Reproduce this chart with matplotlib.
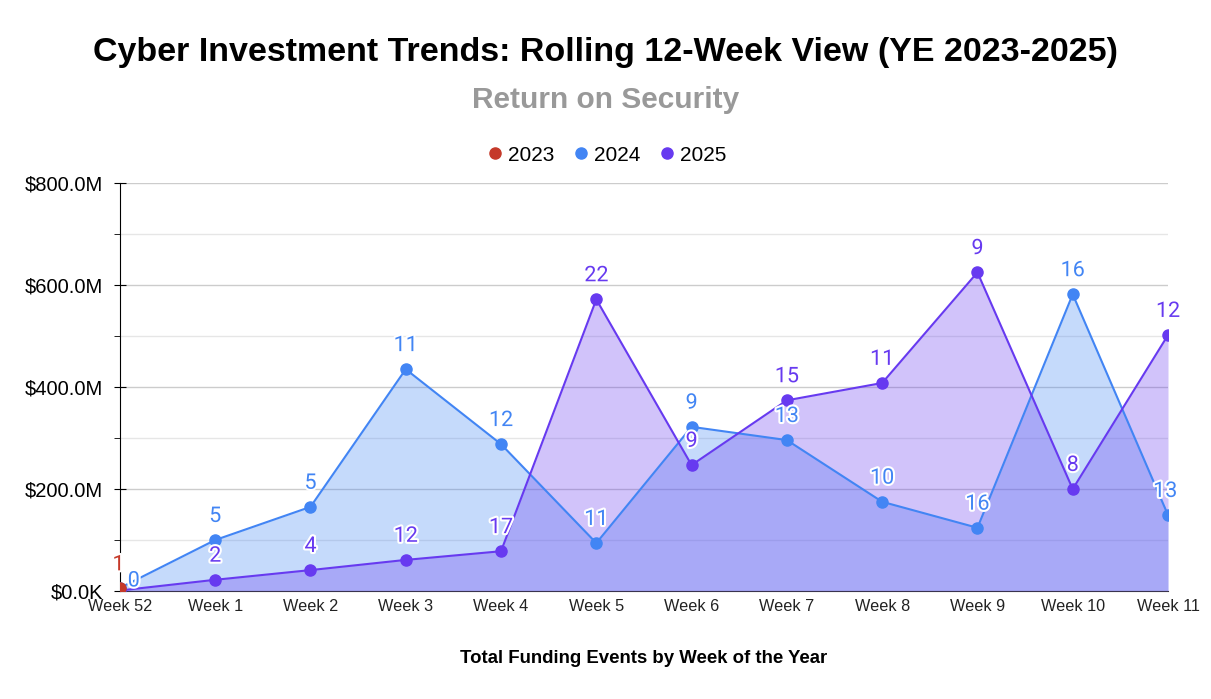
import matplotlib
matplotlib.use("Agg")
import matplotlib.pyplot as plt
import matplotlib.patheffects as pe
from matplotlib.ticker import FuncFormatter, MultipleLocator

weeks = ["Week 52", "Week 1", "Week 2", "Week 3", "Week 4", "Week 5",
         "Week 6", "Week 7", "Week 8", "Week 9", "Week 10", "Week 11"]

# funding amounts in $M
funding_2023 = [5]
funding_2024 = [6, 100, 165, 435, 288, 94, 322, 296, 175, 124, 582, 149]
funding_2025 = [1, 22, 41, 61, 78, 572, 247, 374, 408, 625, 200, 502]

# number of funding events (point labels)
events_2023 = [1]
events_2024 = [0, 5, 5, 11, 12, 11, 9, 13, 10, 16, 16, 13]
events_2025 = [None, 2, 4, 12, 17, 22, 9, 15, 11, 9, 8, 12]

c23 = "#C53929"
c24 = "#4285F4"
c25 = "#673AF0"

plt.rcParams['font.family'] = ['Liberation Sans', 'DejaVu Sans']

fig = plt.figure(figsize=(12.11, 6.99), dpi=100)
ax = fig.add_axes([0.099, 0.1545, 0.8655, 0.5835])

x24 = list(range(len(funding_2024)))
x25 = list(range(len(funding_2025)))
x23 = list(range(len(funding_2023)))

ax.fill_between(x24, funding_2024, 0, color=c24, alpha=0.3, lw=0, zorder=2)
ax.fill_between(x25, funding_2025, 0, color=c25, alpha=0.3, lw=0, zorder=3)
ax.plot(x24, funding_2024, color=c24, lw=1.5, marker='o', ms=8, zorder=4)
ax.plot(x25, funding_2025, color=c25, lw=1.5, marker='o', ms=8, zorder=5)
ax.plot(x23, funding_2023, color=c23, lw=1.5, marker='o', ms=8, zorder=6)

stroke = [pe.withStroke(linewidth=3, foreground='white')]


def label_series(xs, ys, labels, color, shifts):
    for i, (x, y, lab) in enumerate(zip(xs, ys, labels)):
        if lab is None:
            continue
        dx, dy = shifts.get(i, (0, 17))
        ax.annotate(str(lab), (x, y), xytext=(dx, dy), textcoords='offset points',
                    ha='center', va='center', color=color, fontsize=15.5,
                    family=['Roboto', 'DejaVu Sans'], path_effects=stroke,
                    zorder=8, annotation_clip=False)


label_series(x24, funding_2024, events_2024, c24, {0: (10, 5), 11: (-2, 17)})
label_series(x25, funding_2025, events_2025, c25, {})
label_series(x23, funding_2023, events_2023, c23, {0: (-1, 17)})

ax.set_xlim(0, len(weeks) - 1)
ax.set_ylim(0, 800)
ax.set_xticks(x24)
ax.set_xticklabels(weeks, fontsize=11.7, color='#222222')
ax.tick_params(axis='x', length=0, pad=6)

ax.yaxis.set_major_locator(MultipleLocator(200))
ax.yaxis.set_minor_locator(MultipleLocator(100))
ax.yaxis.set_major_formatter(FuncFormatter(
    lambda v, p: "$0.0K" if v == 0 else "${:.1f}M".format(v)))
ax.tick_params(axis='y', which='major', labelsize=14.5, length=8, direction='inout', pad=8)
ax.tick_params(axis='y', which='minor', length=4, direction='out')

ax.grid(axis='y', which='major', color='#cccccc', lw=1, zorder=0)
ax.grid(axis='y', which='minor', color='#e6e6e6', lw=1, zorder=0)
ax.set_axisbelow(True)

for s in ['top', 'right']:
    ax.spines[s].set_visible(False)
ax.spines['left'].set_color('black')
ax.spines['bottom'].set_color('#333333')

ax.set_xlabel("Total Funding Events by Week of the Year", fontsize=13.4,
              fontweight='bold', labelpad=26)

fig.text(0.5, 0.925, "Cyber Investment Trends: Rolling 12-Week View (YE 2023-2025)",
         ha='center', va='center', fontsize=24.5, fontweight='bold')
fig.text(0.5, 0.857, "Return on Security", ha='center', va='center',
         fontsize=21.5, fontweight='bold', color='#999999')

handles = [plt.Line2D([], [], ls='', marker='o', ms=8, color=c) for c in (c23, c24, c25)]
fig.legend(handles, ["2023", "2024", "2025"], loc='center', bbox_to_anchor=(0.5, 0.778),
           ncol=3, frameon=False, fontsize=15, handletextpad=0.1, columnspacing=0.8,
           handlelength=1.0)

fig.savefig("out.png", dpi=100)
